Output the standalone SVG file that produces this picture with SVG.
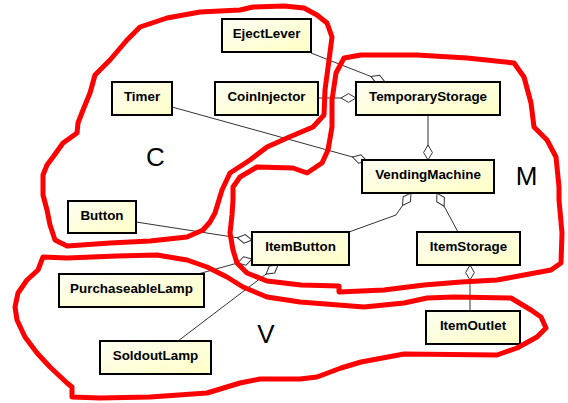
<svg xmlns="http://www.w3.org/2000/svg" width="568" height="403" viewBox="0 0 568 403">
<style>
.box{fill:url(#g);stroke:#000;stroke-width:2}
.lbl{font-family:"Liberation Sans",Arial,sans-serif;font-weight:bold;font-size:13.4px;fill:#000;text-anchor:middle}
.con{fill:none;stroke:#333;stroke-width:1}
.agg{marker-end:url(#dia)}
.blob{fill:none;stroke:#ff0000;stroke-width:5;stroke-linejoin:round;stroke-linecap:round}
.big{font-family:"Liberation Sans",Arial,sans-serif;font-size:26px;fill:#000;text-anchor:middle}
</style>
<defs>
<linearGradient id="g" x1="0" y1="0" x2="1" y2="1">
<stop offset="0" stop-color="#fdfdf2"/>
<stop offset="1" stop-color="#ffffc6"/>
</linearGradient>
<marker id="dia" markerUnits="userSpaceOnUse" markerWidth="17" markerHeight="11" refX="15" refY="5" orient="auto" viewBox="-1 0 17 10">
<path d="M0,5 L7.5,0.6 L15,5 L7.5,9.4 Z" fill="#fff" stroke="#333" stroke-width="1"/>
</marker>
</defs>
<rect width="568" height="403" fill="#fff"/>

<g id="connectors">
<path class="con agg" d="M311,53 L385,82"/>
<path class="con agg" d="M318,98 L356,98"/>
<path class="con agg" d="M172,107 L367,161"/>
<path class="con agg" d="M428,115 L428,160"/>
<path class="con agg" d="M136,222 L252,240"/>
<path class="con agg" d="M198,274 L252,259"/>
<path class="con agg" d="M178,341 L278,265"/>
<path class="con agg" d="M349,232 L396,215 L411,193"/>
<path class="con agg" d="M458,232 L437,193"/>
<path class="con agg" d="M470,311 L470,265"/>
</g>

<g id="EjectLever"><rect class="box" x="222" y="19" width="89" height="33"/><text class="lbl" x="266.5" y="38">EjectLever</text></g>
<g id="Timer"><rect class="box" x="112" y="82" width="60" height="33"/><text class="lbl" x="142" y="101">Timer</text></g>
<g id="CoinInjector"><rect class="box" x="215" y="82" width="103" height="33"/><text class="lbl" x="266.5" y="101">CoinInjector</text></g>
<g id="TemporaryStorage"><rect class="box" x="356" y="82" width="144" height="33"/><text class="lbl" x="428" y="101">TemporaryStorage</text></g>
<g id="VendingMachine"><rect class="box" x="362" y="160" width="132" height="33"/><text class="lbl" x="428" y="179">VendingMachine</text></g>
<g id="Button"><rect class="box" x="68" y="201" width="68" height="32"/><text class="lbl" x="102" y="220">Button</text></g>
<g id="ItemButton"><rect class="box" x="252" y="232" width="97" height="33"/><text class="lbl" x="300.5" y="251">ItemButton</text></g>
<g id="ItemStorage"><rect class="box" x="417" y="232" width="103" height="33"/><text class="lbl" x="468.5" y="251">ItemStorage</text></g>
<g id="PurchaseableLamp"><rect class="box" x="59" y="274" width="145" height="33"/><text class="lbl" x="131.5" y="293">PurchaseableLamp</text></g>
<g id="SoldoutLamp"><rect class="box" x="100" y="341" width="111" height="33"/><text class="lbl" x="155.5" y="360">SoldoutLamp</text></g>
<g id="ItemOutlet"><rect class="box" x="426" y="311" width="94" height="33"/><text class="lbl" x="473" y="330">ItemOutlet</text></g>

<g id="regions">
<path class="blob" d="M140,27 L167,18 L200,12 L240,10 L253,7 L284,6 L304,8 L317,15 L327,23 L332,37 L329,60 L325,90 L324,115 L313,127 L287,138 L267,147 L250,160 L230,173 L222,190 L215,213 L210,222 L203,230 L187,237 L150,241 L110,243 L67,246 L55,240 L50,225 L47,210 L43,195 L43,175 L47,165 L53,157 L63,143 L77,133 L78,123 L83,110 L90,93 L95,75 L110,60 L127,40 Z"/>
<path class="blob" d="M344,58 L361,55 L417,55 L467,58 L514,63 L524,77 L531,103 L534,127 L547,140 L556,157 L559,187 L559,200 L562,233 L561,263 L551,270 L524,275 L497,280 L461,282 L424,285 L384,290 L339,292 L339,286 L301,285 L284,283 L267,281 L247,273 L237,263 L233,250 L230,233 L232,215 L233,200 L233,187 L240,177 L257,167 L293,168 L307,173 L322,163 L328,150 L332,127 L332,100 L336,73 Z"/>
<path class="blob" d="M43,257 L67,258 L117,256 L157,255 L187,260 L207,267 L227,277 L243,287 L267,297 L300,302 L364,307 L404,303 L427,298 L454,297 L511,298 L531,310 L541,317 L546,328 L537,337 L517,348 L497,355 L404,354 L361,362 L341,368 L317,377 L300,379 L260,379 L240,383 L207,393 L150,397 L100,398 L72,397 L72,387 L67,383 L50,367 L37,353 L25,337 L17,320 L15,307 L18,293 L27,280 L38,270 Z"/>
<text class="big" x="155.5" y="166">C</text>
<text class="big" x="526.5" y="185">M</text>
<text class="big" x="266" y="343">V</text>
</g>
</svg>
